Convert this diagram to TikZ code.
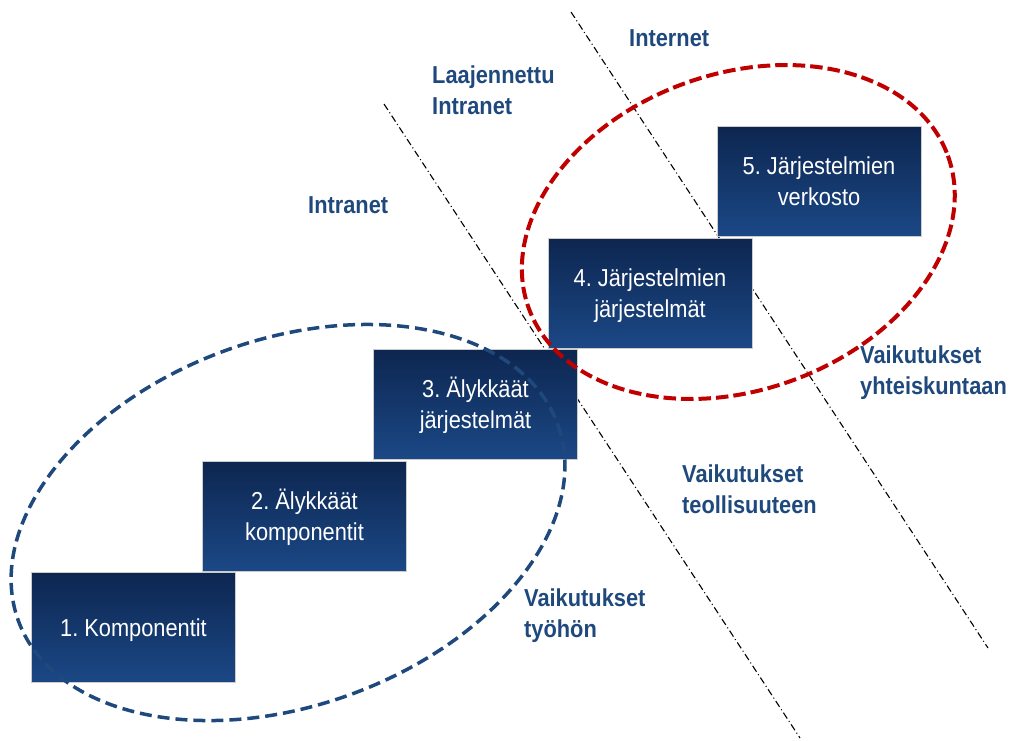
\documentclass[tikz,border=0pt]{standalone}
\usepackage{fontspec}
\setmainfont{Liberation Sans}[FakeStretch=0.89]
\frenchspacing

\definecolor{navytext}{HTML}{1F497D}
\definecolor{boxtop}{HTML}{0D2650}
\definecolor{boxbottom}{HTML}{1B4886}
\definecolor{scarlet}{HTML}{C00000}

% one line of text whose box runs from the cap top to the baseline
\newcommand\capline[1]{\raisebox{0pt}[17.5pt][0pt]{#1}}

\begin{document}
\begin{tikzpicture}[x=1pt, y=-1pt,
  stepbox/.style={rectangle, minimum width=204pt, minimum height=110pt,
    inner sep=0pt, top color=boxtop, bottom color=boxbottom,
    draw=gray!40, line width=0.8pt, text=white, align=center,
    font=\fontsize{24.5}{31}\selectfont},
  zone/.style={anchor=north west, inner sep=0pt, align=left, text=navytext,
    font=\fontsize{24.5}{31}\selectfont\bfseries},
  boundary/.style={black, line width=1.1pt,
    dash pattern=on 7pt off 3pt on 1pt off 3pt},
  bluering/.style={draw=navytext, line width=3.5pt,
    dash pattern=on 12pt off 6pt},
  redring/.style={draw=scarlet, line width=4pt,
    dash pattern=on 12.5pt off 5pt}]

\useasboundingbox (0,0) rectangle (1011,740);

% network boundaries (dash-dot)
\coordinate (b1s) at (384,104);
\coordinate (b1e) at (800,738);
\coordinate (b2s) at (571,12);
\coordinate (b2e) at (988,648);
\draw[boundary] (b1s) -- (b1e);
\draw[boundary] (b2s) -- (b2e);

% the five steps
\node[stepbox] (s1) at (133.5,627.5) {\capline{1. Komponentit}};
\node[stepbox] (s2) at (304.5,516)   {\capline{2. Älykkäät}\\\capline{komponentit}};
\node[stepbox] (s3) at (475.5,404)   {\capline{3. Älykkäät}\\\capline{järjestelmät}};
\node[stepbox] (s4) at (650,293)     {\capline{4. Järjestelmien}\\\capline{järjestelmät}};
\node[stepbox] (s5) at (819,181.5)   {\capline{5. Järjestelmien}\\\capline{verkosto}};

% grouping rings
\coordinate (ringlow) at (288,522.5);
\coordinate (ringhigh) at (738.3,232);
\draw[bluering, rotate around={20:(ringlow)}] (ringlow) ellipse [x radius=287, y radius=183];
\draw[redring, rotate around={20:(ringhigh)}] (ringhigh) ellipse [x radius=223, y radius=158];

% zone and impact labels
\node[zone] (intra)  at (308,195.5) {\capline{Intranet}};
\node[zone] (extra)  at (432,65.5)  {\capline{Laajennettu}\\\capline{Intranet}};
\node[zone] (inet)   at (629,28.5)  {\capline{Internet}};
\node[zone] (society) at (860,345.5) {\capline{Vaikutukset}\\\capline{yhteiskuntaan}};
\node[zone] (industry) at (682,464.5) {\capline{Vaikutukset}\\\capline{teollisuuteen}};
\node[zone] (work)   at (524,588.5) {\capline{Vaikutukset}\\\capline{työhön}};

\end{tikzpicture}
\end{document}
